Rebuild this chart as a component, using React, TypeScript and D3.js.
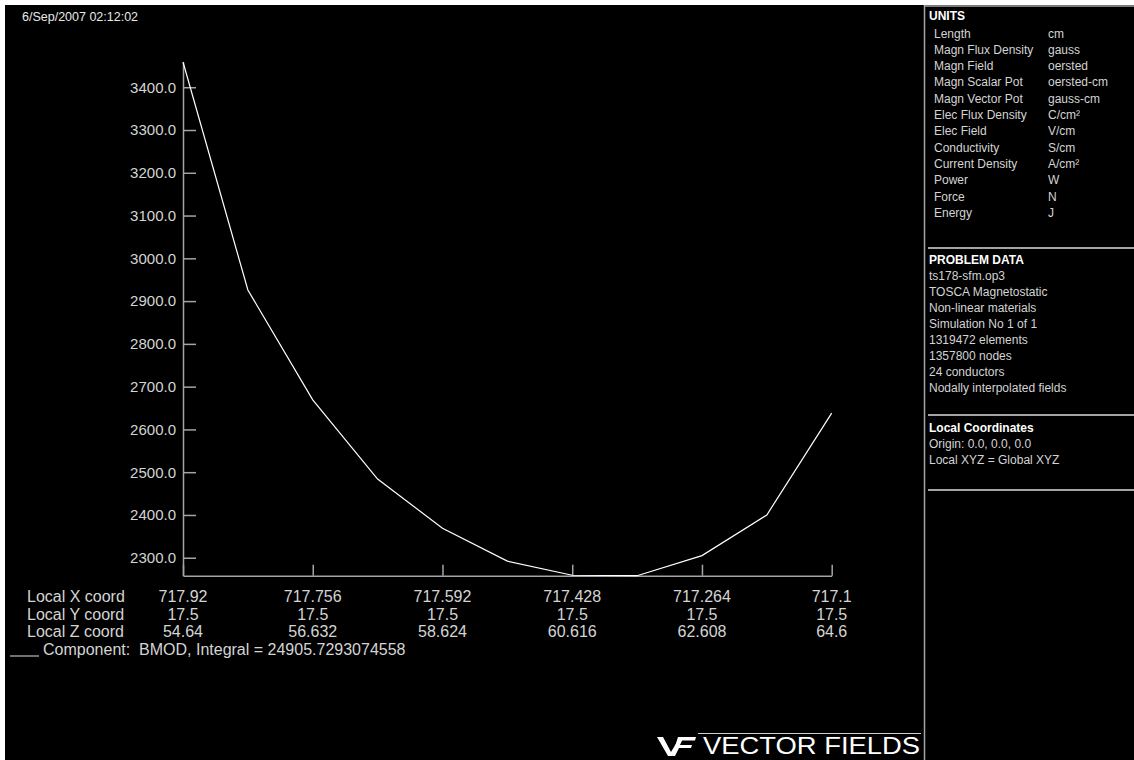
import * as d3 from 'd3';
import { useEffect, useRef } from 'react';

// sampled points along the line (Local X coord) and BMOD values (gauss)
const xCoords = [717.92, 717.838, 717.756, 717.674, 717.592, 717.51, 717.428, 717.346, 717.264, 717.182, 717.1];
const bmod = [3459, 2926, 2669, 2484, 2369, 2292, 2259, 2258, 2305, 2400, 2638];

const yTicks = [2300, 2400, 2500, 2600, 2700, 2800, 2900, 3000, 3100, 3200, 3300, 3400];
const xTicks = [717.92, 717.756, 717.592, 717.428, 717.264, 717.1];
const xTickLabels = ['717.92', '717.756', '717.592', '717.428', '717.264', '717.1'];
const yCoordLabels = ['17.5', '17.5', '17.5', '17.5', '17.5', '17.5'];
const zCoordLabels = ['54.64', '56.632', '58.624', '60.616', '62.608', '64.6'];
const rowNames = ['Local X coord', 'Local Y coord', 'Local Z coord'];

const unitNames = ['Length', 'Magn Flux Density', 'Magn Field', 'Magn Scalar Pot', 'Magn Vector Pot', 'Elec Flux Density', 'Elec Field', 'Conductivity', 'Current Density', 'Power', 'Force', 'Energy'];
const unitValues = ['cm', 'gauss', 'oersted', 'oersted-cm', 'gauss-cm', 'C/cm²', 'V/cm', 'S/cm', 'A/cm²', 'W', 'N', 'J'];
const problemData = ['ts178-sfm.op3', 'TOSCA Magnetostatic', 'Non-linear materials', 'Simulation No 1 of 1', '1319472 elements', '1357800 nodes', '24 conductors', 'Nodally interpolated fields'];
const localCoords = ['Origin: 0.0, 0.0, 0.0', 'Local XYZ = Global XYZ'];

export default function App() {
  const w = 1134;
  const h = 760;
  const svgRef = useRef<SVGSVGElement>(null);

  useEffect(() => {
    if (svgRef.current == null) {
      return;
    }
    const svg = d3.select(svgRef.current).select('#change');
    svg.selectAll('*').remove();

    const font = 'Liberation Sans, Arial, sans-serif';
    const axisColor = '#a4a4a4';
    const textColor = '#d4d4d4';

    svg.append('rect').attr('width', w).attr('height', h).attr('fill', 'white');
    svg.append('rect').attr('x', 5).attr('y', 5).attr('width', w - 5).attr('height', h - 5).attr('fill', 'black');

    const xScale = d3.scaleLinear().domain([717.92, 717.1]).range([183, 831.7]);
    const yScale = d3.scaleLinear().domain([2258, 3459]).range([575.7, 62]);

    // date
    svg.append('text')
      .attr('x', 22).attr('y', 21)
      .attr('fill', '#e8e8e8')
      .style('font', `12.5px ${font}`)
      .text('6/Sep/2007 02:12:02');

    // y axis
    const yAxis = d3.axisLeft(yScale)
      .tickValues(yTicks)
      .tickSizeInner(-13)
      .tickSizeOuter(0)
      .tickPadding(7)
      .tickFormat((d) => (+d).toFixed(1));
    const gy = svg.append('g').attr('transform', 'translate(183,0)').call(yAxis);
    gy.select('.domain').attr('stroke', axisColor).attr('stroke-width', 1.5);
    gy.selectAll('.tick line').attr('stroke', axisColor).attr('stroke-width', 1.5);
    gy.selectAll('.tick text').attr('fill', textColor).style('font', `15px ${font}`);

    // x axis
    const xAxis = d3.axisBottom(xScale)
      .tickValues(xTicks)
      .tickSizeInner(-11)
      .tickSizeOuter(0)
      .tickFormat(() => '');
    const gx = svg.append('g').attr('transform', 'translate(0,575.7)').call(xAxis);
    gx.select('.domain').attr('stroke', axisColor).attr('stroke-width', 1.5);
    gx.selectAll('.tick line').attr('stroke', axisColor).attr('stroke-width', 1.5);

    // coordinate rows below the x axis
    const rows = [xTickLabels, yCoordLabels, zCoordLabels];
    const rowBase = [602, 619.5, 637];
    rows.forEach((labels, r) => {
      svg.append('text')
        .attr('x', 27).attr('y', rowBase[r])
        .attr('fill', textColor)
        .style('font', `16px ${font}`)
        .text(rowNames[r]);
      svg.append('g')
        .selectAll('text')
        .data(xTicks)
        .join('text')
        .attr('x', (d) => xScale(d))
        .attr('y', rowBase[r])
        .attr('text-anchor', 'middle')
        .attr('fill', textColor)
        .style('font', `16px ${font}`)
        .text((_, i) => labels[i]);
    });

    // legend
    svg.append('line')
      .attr('x1', 10).attr('x2', 39).attr('y1', 656).attr('y2', 656)
      .attr('stroke', '#e0e0e0').attr('stroke-width', 1);
    svg.append('text')
      .attr('x', 43).attr('y', 655)
      .attr('fill', textColor)
      .attr('xml:space', 'preserve')
      .style('font', `16px ${font}`)
      .style('white-space', 'pre')
      .text('Component:  BMOD, Integral = 24905.7293074558');

    // curve
    const line = d3.line<number>()
      .x((_, i) => xScale(xCoords[i]))
      .y((d) => yScale(d));
    svg.append('path')
      .datum(bmod)
      .attr('d', line)
      .attr('fill', 'none')
      .attr('stroke', 'white')
      .attr('stroke-width', 1.2);

    // right info panel
    svg.append('line').attr('x1', 924.5).attr('x2', 924.5).attr('y1', 5).attr('y2', h)
      .attr('stroke', axisColor).attr('stroke-width', 1.5);
    svg.append('line').attr('x1', 925).attr('x2', w).attr('y1', 6).attr('y2', 6)
      .attr('stroke', axisColor).attr('stroke-width', 1.5);
    [248, 415, 490].forEach((yy) => {
      svg.append('line').attr('x1', 928).attr('x2', w).attr('y1', yy).attr('y2', yy)
        .attr('stroke', axisColor).attr('stroke-width', 2);
    });

    const panelFont = `12px ${font}`;
    svg.append('text').attr('x', 929).attr('y', 20).attr('fill', 'white')
      .style('font', `bold ${panelFont}`).text('UNITS');
    unitNames.forEach((name, i) => {
      const yy = 37.5 + i * 16.3;
      svg.append('text').attr('x', 934).attr('y', yy).attr('fill', textColor)
        .style('font', panelFont).text(name);
      svg.append('text').attr('x', 1048).attr('y', yy).attr('fill', textColor)
        .style('font', panelFont).text(unitValues[i]);
    });

    svg.append('text').attr('x', 929).attr('y', 264).attr('fill', 'white')
      .style('font', `bold ${panelFont}`).text('PROBLEM DATA');
    problemData.forEach((t, i) => {
      svg.append('text').attr('x', 929).attr('y', 280 + i * 16).attr('fill', textColor)
        .style('font', panelFont).text(t);
    });

    svg.append('text').attr('x', 929).attr('y', 431.5).attr('fill', 'white')
      .style('font', `bold ${panelFont}`).text('Local Coordinates');
    localCoords.forEach((t, i) => {
      svg.append('text').attr('x', 929).attr('y', 447.5 + i * 16).attr('fill', textColor)
        .style('font', panelFont).text(t);
    });

    // logo
    const logo = svg.append('g');
    logo.append('path')
      .attr('d', 'M657,737 L663,737 L671,752 L680,737 L684,737 L672,756 L668,756 Z')
      .attr('fill', 'white');
    logo.append('path')
      .attr('d', 'M678,737 L696,737 L695,740.5 L682,740.5 L680,745 L692,745 L691,748 L679,748 L675,756 L672,756 Z')
      .attr('fill', 'white');
    logo.append('line').attr('x1', 698).attr('x2', 921).attr('y1', 733.5).attr('y2', 733.5)
      .attr('stroke', '#cfcfcf').attr('stroke-width', 1);
    logo.append('text')
      .attr('x', 703).attr('y', 754)
      .attr('fill', 'white')
      .attr('textLength', 217)
      .attr('lengthAdjust', 'spacingAndGlyphs')
      .style('font', `24px ${font}`)
      .text('VECTOR FIELDS');
  }, []);

  return (
    <svg ref={svgRef} width={w} height={h} style={{ position: 'fixed', left: 0, top: 0 }}>
      <g id='change'></g>
    </svg>
  );
}
